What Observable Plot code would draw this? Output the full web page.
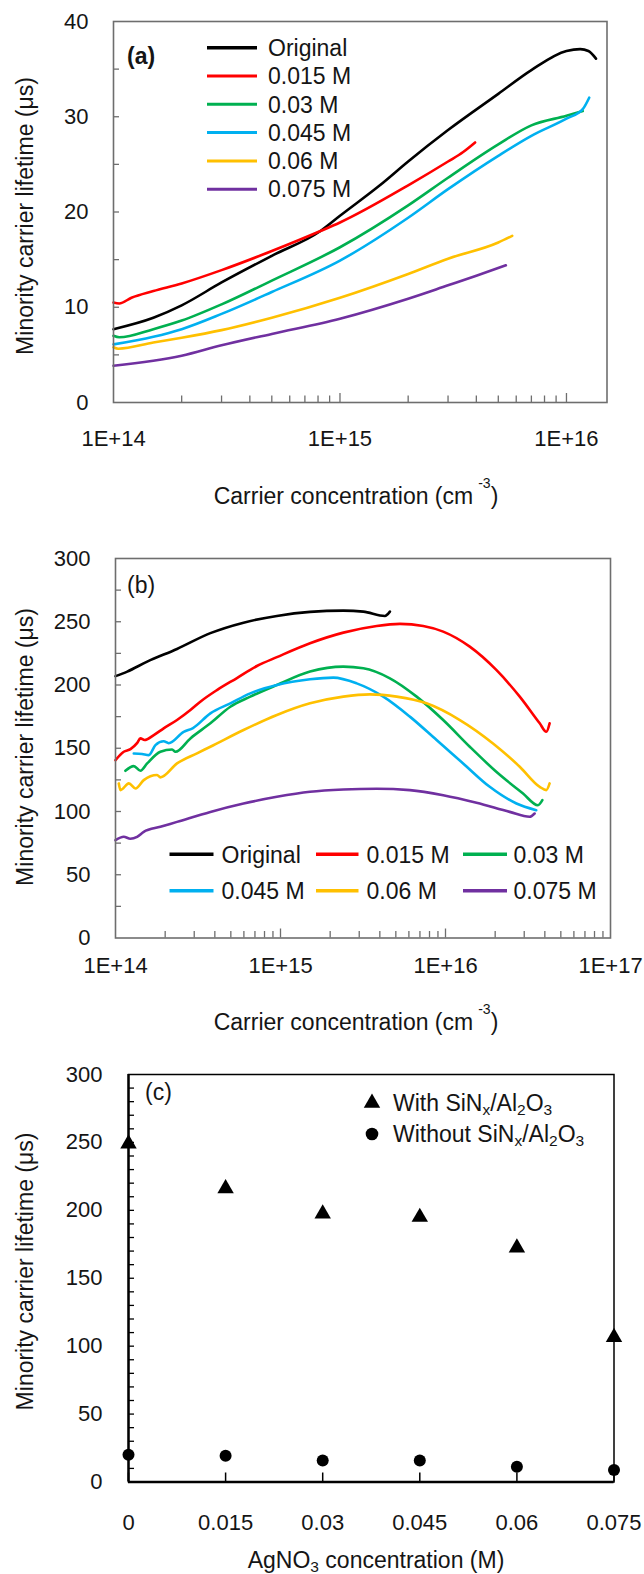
<!DOCTYPE html>
<html>
<head>
<meta charset="utf-8">
<script src="https://cdn.jsdelivr.net/npm/d3@7"></script>
<script src="https://cdn.jsdelivr.net/npm/@observablehq/plot@0.6"></script>
<style>
  html, body { margin: 0; padding: 0; background: #fff; }
  #chart svg { display: block; }
</style>
</head>
<body>
<div id="chart"></div>
<script>
// ---------------- Data ----------------
const seriesNames = ["Original", "0.015 M", "0.03 M", "0.045 M", "0.06 M", "0.075 M"];
const seriesColors = ["#000000", "#ff0000", "#00b050", "#00b0f0", "#ffc000", "#7030a0"];

// Panel (a): [carrier concentration (cm^-3), lifetime (µs)]
const aOriginal = [[1.0e14,7.7],[1.5e14,8.9],[2e14,10.2],[3e14,12.6],[5e14,15.4],[8.2e14,18.0],[1e15,19.6],[1.5e15,22.8],[2e15,25.3],[3e15,28.6],[5e15,32.4],[7e15,34.9],[1e16,36.9],[1.15e16,37.1],[1.25e16,36.9],[1.35e16,36.1]];
const aM015 = [[1.0e14,10.5],[1.06e14,10.4],[1.2e14,11.0],[1.5e14,11.7],[2e14,12.5],[3e14,13.9],[5e14,15.9],[8.2e14,18.0],[1e15,18.9],[2e15,22.8],[3e15,25.3],[3.5e15,26.3],[3.95e15,27.3]];
const aM030 = [[1.0e14,7.0],[1.06e14,6.85],[1.5e14,7.7],[2e14,8.6],[3e14,10.3],[5e14,12.8],[1e15,16.3],[2e15,20.7],[3e15,23.6],[5e15,27.1],[7e15,29.1],[1e16,30.1],[1.18e16,30.6]];
const aM045 = [[1.0e14,6.1],[1.5e14,6.9],[2e14,7.7],[3e14,9.3],[5e14,11.6],[1e15,14.9],[2e15,19.4],[3e15,22.4],[5e15,25.9],[7e15,28.0],[1e16,29.8],[1.18e16,30.8],[1.26e16,32.0]];
const aM060 = [[1.0e14,5.8],[1.05e14,5.65],[1.5e14,6.3],[2e14,6.8],[3e14,7.6],[5e14,8.9],[1e15,11.0],[2e15,13.5],[3e15,15.1],[5e15,16.8],[5.76e15,17.5]];
const aM075 = [[1.0e14,3.85],[2e14,4.9],[3e14,6.0],[5e14,7.2],[1e15,8.8],[2e15,10.9],[3e15,12.3],[4e15,13.3],[5.4e15,14.4]];

// Panel (b)
const bOriginal = [[1.0e14,207],[1.178e14,210.6],[1.556e14,218.5],[2.36e14,228.5],[3.758e14,241],[5.97e14,249.3],[9.506e14,254.6],[1.51e15,257.8],[2.404e15,258.8],[3.177e15,258],[4.295e15,254.6],[4.603e15,258]];
const bM015 = [[1.0e14,140.6],[1.122e14,147.2],[1.233e14,149.3],[1.35e14,154],[1.416e14,157.8],[1.5e14,156.5],[1.706e14,160.4],[1.959e14,165.7],[2.36e14,172.3],[2.844e14,180.2],[3.266e14,186.8],[4.121e14,196],[5.445e14,205.5],[7.194e14,215],[9.506e14,222],[1.51e15,233],[2.404e15,241.4],[3.828e15,246.7],[5.297e15,248.3],[7.328e15,246.7],[9.683e15,242.2],[1.403e16,230.3],[2.032e16,211.9],[2.818e16,190.8],[3.724e16,169.7],[4.083e16,163],[4.276e16,169.7]];
const bM030 = [[1.148e14,132.2],[1.291e14,135.9],[1.416e14,132.2],[1.556e14,138],[1.871e14,147.2],[2.203e14,149],[2.307e14,147.2],[2.844e14,157.8],[3.758e14,169.7],[4.966e14,182.8],[6.561e14,190.8],[9.506e14,200],[1.51e15,210.6],[2.404e15,214.5],[3.177e15,213.2],[4.603e15,205.3],[6.683e15,190.8],[9.683e15,172.3],[1.403e16,151.2],[2.032e16,131.4],[2.951e16,114.2],[3.631e16,105],[3.864e16,109]];
const bM045 = [[1.291e14,145.9],[1.449e14,145.4],[1.592e14,144.6],[1.746e14,152.5],[1.959e14,155.5],[2.1e14,154],[2.588e14,163],[2.95e14,166],[3.758e14,177.6],[4.966e14,185.5],[6.561e14,193.4],[9.506e14,200],[1.51e15,204.5],[2.09e15,205.8],[2.897e15,201.3],[4.198e15,190.8],[6.081e15,175],[8.831e15,156.5],[1.279e16,138],[1.854e16,119.5],[2.692e16,106.3],[3.548e16,101]];
const bM060 = [[1.047e14,122.2],[1.072e14,116.9],[1.205e14,122.2],[1.321e14,118.2],[1.483e14,124.8],[1.786e14,128.8],[1.871e14,127],[2.36e14,138],[3.119e14,146],[3.758e14,151.2],[5.97e14,164.4],[9.506e14,176.3],[1.51e15,185.5],[2.404e15,190.8],[3.483e15,192.6],[5.058e15,190.8],[7.674e15,185.5],[1.222e16,172.3],[1.941e16,153.8],[2.818e16,135.4],[3.724e16,119.5],[4.083e16,116.9],[4.276e16,122.2]];
const bM075 = [[1.0e14,77.3],[1.122e14,80],[1.23e14,78.5],[1.352e14,80],[1.483e14,83.9],[1.871e14,87.9],[2.36e14,91.8],[3.758e14,99.7],[5.97e14,106.3],[9.506e14,111.6],[1.51e15,115.6],[2.404e15,117.4],[3.828e15,118],[6.081e15,116.9],[9.683e15,112.9],[1.542e16,106.9],[2.449e16,99.7],[3.236e16,95.8],[3.467e16,98.4]];

// Panel (c)
const cConc = [0, 0.015, 0.03, 0.045, 0.06, 0.075];
const cConcLabels = ["0", "0.015", "0.03", "0.045", "0.06", "0.075"];
const cWith = [249, 216, 197.5, 195, 172.5, 106.5];
const cWithout = [20, 19.3, 15.8, 15.8, 11.3, 8.8];

// Tick values / labels
const aYTickLabels = [0, 10, 20, 30, 40];
const aYTicks = [5, 10, 15, 20, 25, 30, 35];
const aXDecades = [1e14, 1e15, 1e16];
const aXDecadeLabels = ["1E+14", "1E+15", "1E+16"];
const aXMajor = [1e15, 1e16];
const aXMinor = [2e14,3e14,4e14,5e14,6e14,7e14,8e14,9e14,2e15,3e15,4e15,5e15,6e15,7e15,8e15,9e15];

const bYTickLabels = [0, 50, 100, 150, 200, 250, 300];
const bYTicks = [25, 50, 75, 100, 125, 150, 175, 200, 225, 250, 275];
const bXDecades = [1e14, 1e15, 1e16, 1e17];
const bXDecadeLabels = ["1E+14", "1E+15", "1E+16", "1E+17"];
const bXMajor = [1e15, 1e16];
const bXMinor = [2e14,3e14,4e14,5e14,6e14,7e14,8e14,9e14,2e15,3e15,4e15,5e15,6e15,7e15,8e15,9e15,2e16,3e16,4e16,5e16,6e16,7e16,8e16,9e16];

const cYTickLabels = [0, 50, 100, 150, 200, 250, 300];
const cYTicks = [10,20,30,40,50,60,70,80,90,100,110,120,130,140,150,160,170,180,190,200,210,220,230,240,250,260,270,280,290];

// ---------------- Helpers ----------------
const FONT = "'Liberation Sans', Arial, Helvetica, sans-serif";
const GRAY = "#6e6e6e";
const INK = "#151515";

function toRows(list) {
  return list.flatMap((pts, i) => pts.map(([x, y]) => ({series: seriesNames[i], x, y})));
}

function richText(svg, {x, y, parts, size = 23, anchor = "middle", rotate = 0, weight = null, smallSize = 14, supShift = 16, subShift = 5, baseDy = 0}) {
  const t = d3.select(svg).append("text")
    .attr("transform", `translate(${x},${y})` + (rotate ? ` rotate(${rotate})` : ""))
    .attr("text-anchor", anchor)
    .attr("font-family", FONT)
    .attr("font-size", size)
    .attr("font-weight", weight || "normal")
    .attr("fill", INK);
  let shift = 0, first = true;
  for (const p of parts) {
    const [str, kind] = typeof p === "string" ? [p, ""] : p;
    const target = kind === "sup" ? -supShift : kind === "sub" ? subShift : 0;
    const ts = t.append("tspan").text(str);
    const dy = (first ? baseDy : 0) + (target - shift);
    if (dy !== 0) ts.attr("dy", dy);
    if (kind === "sup") ts.attr("dx", 5);
    if (kind) ts.attr("font-size", smallSize);
    shift = target;
    first = false;
  }
  return t;
}

const root = document.getElementById("chart");

// ---------------- Panel (a) ----------------
{
  const W = 644, H = 520, mt = 21, mr = 37.5, mb = 118, ml = 113;
  const pw = W - ml - mr, ph = H - mt - mb;
  const svg = Plot.plot({
    width: W, height: H, marginTop: mt, marginRight: mr, marginBottom: mb, marginLeft: ml,
    style: {fontFamily: FONT, fontSize: "22px", background: "#fff", color: INK},
    x: {type: "log", domain: [1e14, 1.51e16]},
    y: {domain: [0, 40]},
    color: {domain: seriesNames, range: seriesColors},
    marks: [
      Plot.tickY(aYTicks, {y: d => d, insetRight: pw - 6, stroke: GRAY, strokeWidth: 1.3}),
      Plot.tickX(aXMajor, {x: d => d, insetTop: ph - 9, stroke: GRAY, strokeWidth: 1.3}),
      Plot.tickX(aXMinor, {x: d => d, insetTop: ph - 6.5, stroke: GRAY, strokeWidth: 1.3}),
      Plot.line(toRows([aOriginal, aM015, aM030, aM045, aM060, aM075]),
        {x: "x", y: "y", z: "series", stroke: "series", strokeWidth: 2.6, curve: "monotone-x"}),
      Plot.frame({stroke: GRAY, strokeWidth: 1.6}),
      Plot.axisY({ticks: aYTickLabels, tickSize: 0, tickPadding: 25, label: null}),
      Plot.axisX({ticks: aXDecades, tickSize: 0, tickPadding: 28, label: null,
        tickFormat: (d) => aXDecadeLabels[aXDecades.indexOf(d)]})
    ]
  });
  root.appendChild(svg);
  richText(svg, {x: 33, y: 216, rotate: -90, parts: ["Minority carrier lifetime (μs)"]});
  richText(svg, {x: 356, y: 504, parts: ["Carrier concentration (cm", ["-3", "sup"], ")"]});
  richText(svg, {x: 127, y: 64, anchor: "start", weight: "bold", parts: ["(a)"]});
  // legend
  const g = d3.select(svg).append("g");
  seriesNames.forEach((name, i) => {
    const y = 47.7 + i * 28.3;
    g.append("line").attr("x1", 207).attr("x2", 257).attr("y1", y).attr("y2", y)
      .attr("stroke", seriesColors[i]).attr("stroke-width", i === 0 ? 3.6 : 3);
    g.append("text").attr("x", 268).attr("y", y).attr("dy", "0.36em").attr("text-anchor", "start")
      .attr("font-family", FONT).attr("font-size", 23).attr("fill", INK).text(name);
  });
}

// ---------------- Panel (b) ----------------
{
  const W = 644, H = 520, mt = 38, mr = 34, mb = 102.5, ml = 115;
  const pw = W - ml - mr, ph = H - mt - mb;
  const svg = Plot.plot({
    width: W, height: H, marginTop: mt, marginRight: mr, marginBottom: mb, marginLeft: ml,
    style: {fontFamily: FONT, fontSize: "22px", background: "#fff", color: INK},
    x: {type: "log", domain: [1e14, 1e17]},
    y: {domain: [0, 300]},
    color: {domain: seriesNames, range: seriesColors},
    marks: [
      Plot.tickY(bYTicks, {y: d => d, insetRight: pw - 6, stroke: GRAY, strokeWidth: 1.3}),
      Plot.tickX(bXMajor, {x: d => d, insetTop: ph - 9, stroke: GRAY, strokeWidth: 1.3}),
      Plot.tickX(bXMinor, {x: d => d, insetTop: ph - 6.5, stroke: GRAY, strokeWidth: 1.3}),
      Plot.line(toRows([bOriginal, bM015, bM030, bM045, bM060, bM075]),
        {x: "x", y: "y", z: "series", stroke: "series", strokeWidth: 2.6, curve: "monotone-x"}),
      Plot.frame({stroke: GRAY, strokeWidth: 1.6}),
      Plot.axisY({ticks: bYTickLabels, tickSize: 0, tickPadding: 25, label: null}),
      Plot.axisX({ticks: bXDecades, tickSize: 0, tickPadding: 19, label: null,
        tickFormat: (d) => bXDecadeLabels[bXDecades.indexOf(d)]})
    ]
  });
  root.appendChild(svg);
  richText(svg, {x: 33, y: 227, rotate: -90, parts: ["Minority carrier lifetime (μs)"]});
  richText(svg, {x: 356, y: 510, parts: ["Carrier concentration (cm", ["-3", "sup"], ")"]});
  richText(svg, {x: 127, y: 73.4, anchor: "start", parts: ["(b)"]});
  // legend: 2 rows x 3 columns
  const lineX = [[169.5, 213.5], [316, 358.5], [463, 507]];
  const textX = [221.5, 366.5, 513.5];
  const rowY = [334.3, 370.7];
  const g = d3.select(svg).append("g");
  seriesNames.forEach((name, i) => {
    const r = Math.floor(i / 3), c = i % 3;
    g.append("line").attr("x1", lineX[c][0]).attr("x2", lineX[c][1]).attr("y1", rowY[r]).attr("y2", rowY[r])
      .attr("stroke", seriesColors[i]).attr("stroke-width", 3.4);
    g.append("text").attr("x", textX[c]).attr("y", rowY[r]).attr("dy", "0.36em").attr("text-anchor", "start")
      .attr("font-family", FONT).attr("font-size", 23).attr("fill", INK).text(name);
  });
}

// ---------------- Panel (c) ----------------
{
  const W = 644, H = 534, mt = 34, mr = 30.5, mb = 92.5, ml = 128;
  const pw = W - ml - mr, ph = H - mt - mb;
  const rows = cConc.map((x, i) => ({x, with: cWith[i], without: cWithout[i]}));
  const svg = Plot.plot({
    width: W, height: H, marginTop: mt, marginRight: mr, marginBottom: mb, marginLeft: ml,
    style: {fontFamily: FONT, fontSize: "22px", background: "#fff", color: INK},
    x: {domain: [0, 0.075]},
    y: {domain: [0, 300]},
    marks: [
      Plot.tickY(cYTicks, {y: d => d, insetRight: pw - 6, stroke: "#000", strokeWidth: 1.3}),
      Plot.tickX(cConc, {x: d => d, insetTop: ph - 9, stroke: "#000", strokeWidth: 1.5}),
      Plot.frame({stroke: "#000", strokeWidth: 1.5}),
      Plot.ruleX([0], {stroke: "#000", strokeWidth: 2.4}),
      Plot.ruleY([0], {stroke: "#000", strokeWidth: 2.4}),
      Plot.dot(rows, {x: "x", y: "with", symbol: "triangle", r: 6.1, fill: "#000", stroke: "none"}),
      Plot.dot(rows, {x: "x", y: "without", symbol: "circle", r: 6, fill: "#000", stroke: "none"}),
      Plot.axisY({ticks: cYTickLabels, tickSize: 0, tickPadding: 26, label: null}),
      Plot.axisX({ticks: cConc, tickSize: 0, tickPadding: 32, label: null,
        tickFormat: (d) => cConcLabels[cConc.indexOf(d)]})
    ]
  });
  root.appendChild(svg);
  richText(svg, {x: 33, y: 231.5, rotate: -90, parts: ["Minority carrier lifetime (μs)"]});
  richText(svg, {x: 376, y: 527.5, parts: ["AgNO", ["3", "sub"], " concentration (M)"], smallSize: 15.5, subShift: 4});
  richText(svg, {x: 145, y: 60, anchor: "start", parts: ["(c)"]});
  // legend
  const g = d3.select(svg).append("g");
  const legendItems = [
    {sym: d3.symbolTriangle, r: 6.1, y: 63, parts: ["With SiN", ["x", "sub"], "/Al", ["2", "sub"], "O", ["3", "sub"]]},
    {sym: d3.symbolCircle, r: 6.3, y: 94, parts: ["Without SiN", ["x", "sub"], "/Al", ["2", "sub"], "O", ["3", "sub"]]}
  ];
  legendItems.forEach(it => {
    g.append("path").attr("transform", `translate(372,${it.y})`)
      .attr("d", d3.symbol(it.sym, Math.PI * it.r * it.r)()).attr("fill", "#000");
    richText(svg, {x: 393, y: it.y, anchor: "start", parts: it.parts, smallSize: 15.5, subShift: 4, baseDy: 8});
  });
}
</script>
</body>
</html>
